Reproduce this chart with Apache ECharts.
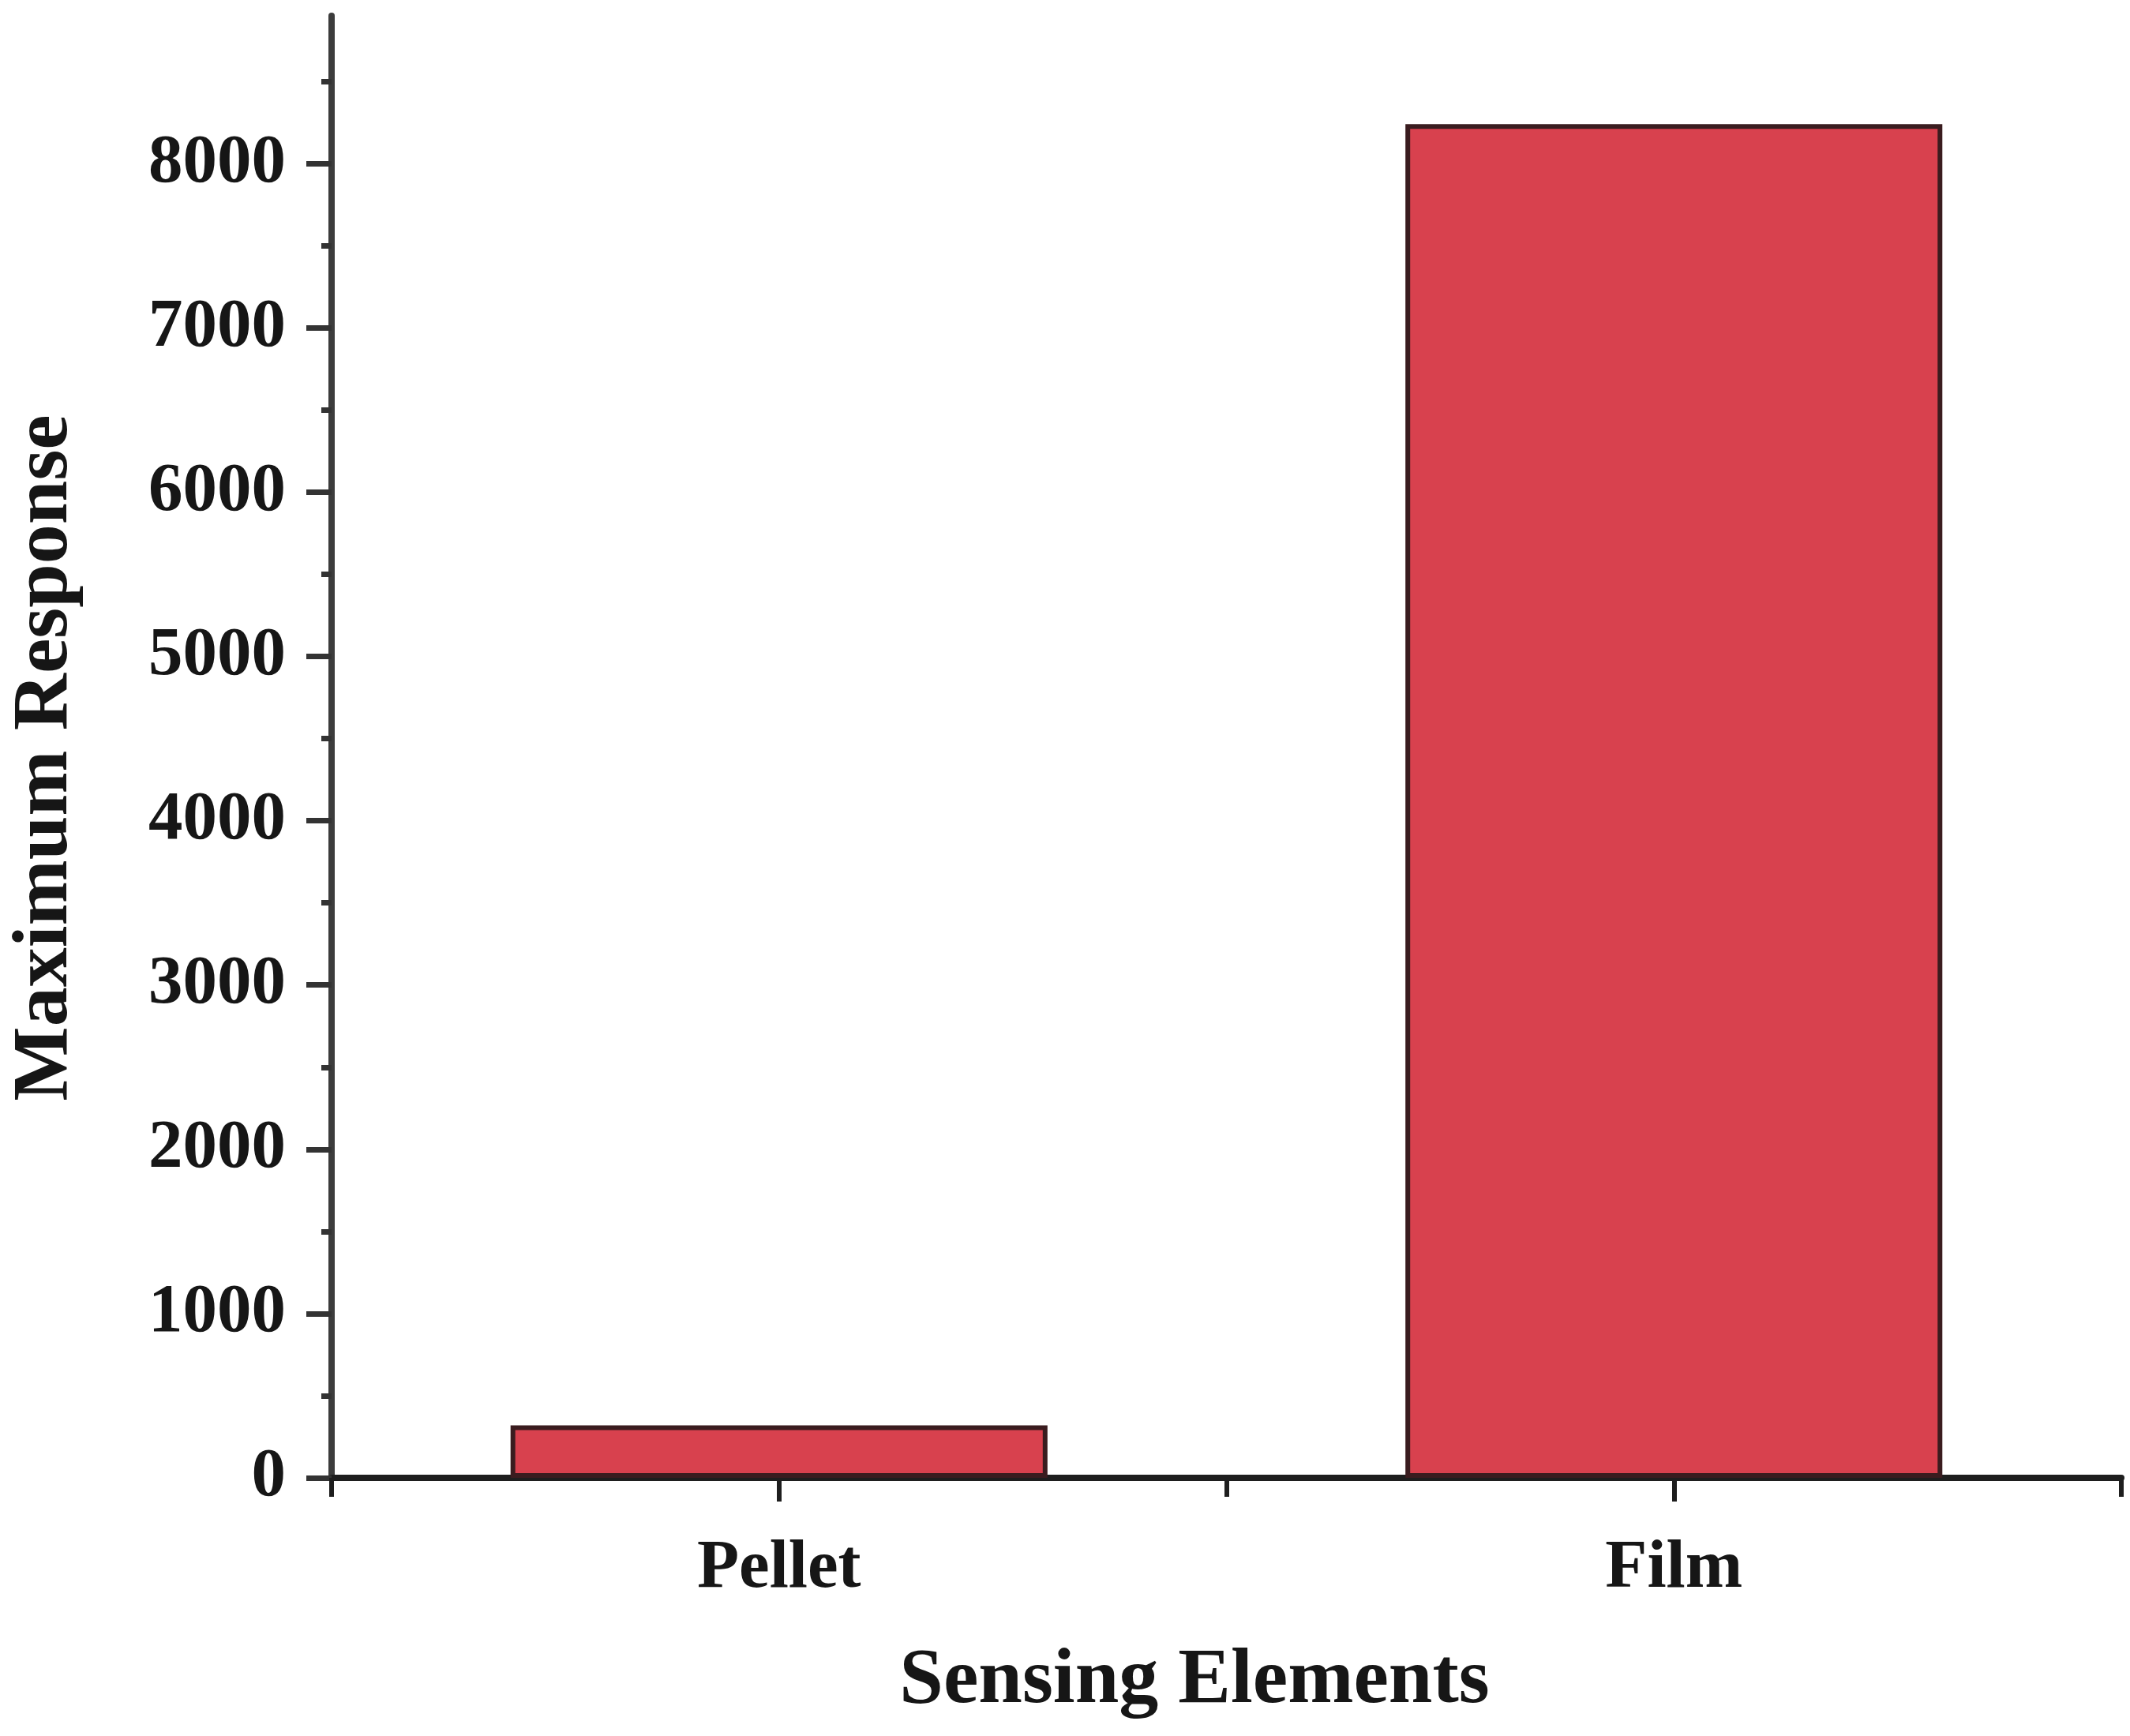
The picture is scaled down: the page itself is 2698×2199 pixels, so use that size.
<!DOCTYPE html>
<html>
<head>
<meta charset="utf-8">
<script src="https://cdn.jsdelivr.net/npm/echarts@6/dist/echarts.min.js"></script>
<style>
html,body{margin:0;padding:0;background:#ffffff;}
#chart{width:2698px;height:2199px;}
</style>
</head>
<body>
<div id="chart"></div>
<script>
// ---- data ----
const categories = ['Pellet', 'Film'];
const responseValues = [320, 8240];
const yMajorTicks = [0, 1000, 2000, 3000, 4000, 5000, 6000, 7000, 8000];
const yMinorTicks = [500, 1500, 2500, 3500, 4500, 5500, 6500, 7500, 8500];
const yMax = 8900;
const xTitle = 'Sensing Elements';
const yTitle = 'Maximum Response';

// ---- chart ----
const FONT = '"Liberation Serif", "Times New Roman", serif';
const chart = echarts.init(document.getElementById('chart'), null, {renderer: 'canvas'});
chart.setOption({
  backgroundColor: '#ffffff',
  animation: false,
  grid: {left: 420, top: 20, width: 2267, height: 1852, containLabel: false, outerBoundsMode: 'none'},
  graphic: [
    {
      type: 'text',
      x: 1513,
      y: 2130,
      silent: true,
      style: {
        text: xTitle,
        font: 'bold 100px "Liberation Serif", "Times New Roman", serif',
        fill: '#161616',
        align: 'center',
        verticalAlign: 'middle',
        textAlign: 'center',
        textVerticalAlign: 'middle'
      }
    }
  ],
  xAxis: [
    {
      type: 'category',
      data: categories,
      position: 'bottom',
      boundaryGap: true,
      axisLine: {show: true, lineStyle: {color: '#1e1e1e', width: 8}},
      axisTick: {show: true, alignWithLabel: true, inside: false, length: 30, lineStyle: {color: '#1e1e1e', width: 6}},
      axisLabel: {show: true, margin: 72, fontFamily: FONT, fontWeight: 'bold', fontSize: 87, color: '#161616'},
      splitLine: {show: false}
    },
    {
      type: 'category',
      data: categories,
      position: 'bottom',
      boundaryGap: true,
      axisLine: {show: false},
      axisTick: {show: true, alignWithLabel: false, inside: false, length: 24, lineStyle: {color: '#1e1e1e', width: 6}},
      axisLabel: {show: false},
      splitLine: {show: false}
    }
  ],
  yAxis: [
    {
      type: 'value',
      position: 'left',
      min: 0,
      max: yMax,
      interval: 1000,
      axisLine: {show: true, lineStyle: {color: '#3c3c3c', width: 8}},
      axisTick: {show: true, inside: false, length: 32, customValues: yMajorTicks, lineStyle: {color: '#333333', width: 7}},
      axisLabel: {show: true, margin: 58, customValues: yMajorTicks, formatter: function (v) { return String(v); }, fontFamily: FONT, fontWeight: 'bold', fontSize: 87, color: '#161616'},
      splitLine: {show: false},
      name: yTitle,
      nameLocation: 'middle',
      nameGap: 312,
      nameRotate: 90,
      nameTextStyle: {fontFamily: FONT, fontWeight: 'bold', fontSize: 100, color: '#161616', padding: [0, 28, 0, 0]}
    },
    {
      type: 'value',
      position: 'left',
      min: 0,
      max: yMax,
      interval: 500,
      axisLine: {show: false},
      axisTick: {show: true, inside: false, length: 13, customValues: yMinorTicks, lineStyle: {color: '#333333', width: 7}},
      axisLabel: {show: false},
      splitLine: {show: false}
    }
  ],
  series: [
    {
      type: 'bar',
      xAxisIndex: 0,
      yAxisIndex: 0,
      data: responseValues,
      barWidth: '60%',
      itemStyle: {color: '#D8414E', borderColor: '#3a1c1f', borderWidth: 6}
    }
  ]
});
</script>
</body>
</html>
